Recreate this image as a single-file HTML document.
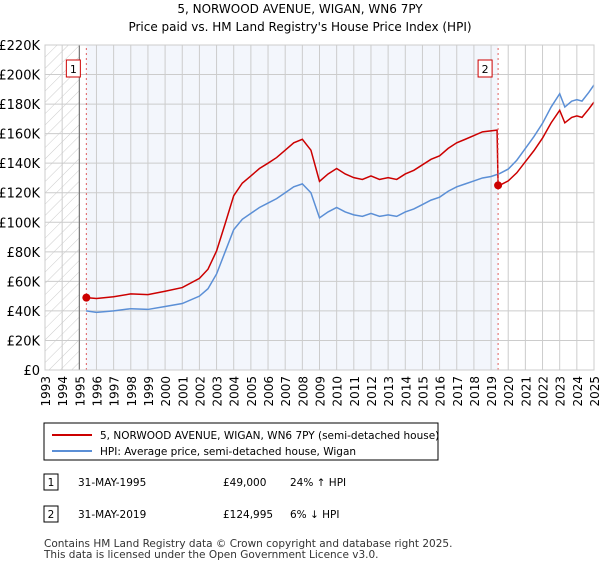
<!DOCTYPE html><html><head><meta charset="utf-8"><style>
body{margin:0;background:#fff;font-family:"DejaVu Sans","Liberation Sans",sans-serif;}
svg text{font-family:"DejaVu Sans","Liberation Sans",sans-serif;}
</style></head><body>
<svg width="600" height="560" viewBox="0 0 600 560">
<defs><pattern id="h" width="8" height="8" patternUnits="userSpaceOnUse" patternTransform="rotate(45)"><line x1="0" y1="0" x2="0" y2="8" stroke="#ccc" stroke-width="1"/></pattern></defs>
<text x="300" y="13" text-anchor="middle" font-size="12">5, NORWOOD AVENUE, WIGAN, WN6 7PY</text>
<text x="300" y="31" text-anchor="middle" font-size="12">Price paid vs. HM Land Registry's House Price Index (HPI)</text>
<g id="plot"></g>
<g>
<rect x="44" y="423" width="394" height="37" fill="#fff" stroke="#000"/>
<line x1="52" y1="435" x2="92" y2="435" stroke="#cc0000" stroke-width="2"/>
<text x="100" y="439" font-size="10.5">5, NORWOOD AVENUE, WIGAN, WN6 7PY (semi-detached house)</text>
<line x1="52" y1="451" x2="92" y2="451" stroke="#5b8fd6" stroke-width="2"/>
<text x="100" y="455" font-size="10.5">HPI: Average price, semi-detached house, Wigan</text>
</g>
<g font-size="10.5">
<rect x="44" y="474" width="14" height="16" fill="#fff" stroke="#000"/><text x="51" y="486" text-anchor="middle">1</text>
<text x="78" y="486">31-MAY-1995</text><text x="223" y="486">£49,000</text><text x="290" y="486">24% ↑ HPI</text>
<rect x="44" y="506" width="14" height="16" fill="#fff" stroke="#000"/><text x="51" y="518" text-anchor="middle">2</text>
<text x="78" y="518">31-MAY-2019</text><text x="223" y="518">£124,995</text><text x="290" y="518">6% ↓ HPI</text>
</g>
<text x="44" y="547" font-size="10.5" fill="#333">Contains HM Land Registry data © Crown copyright and database right 2025.</text>
<text x="44" y="558" font-size="10.5" fill="#333">This data is licensed under the Open Government Licence v3.0.</text>
</svg>
<script>
const yTicks=[0,20,40,60,80,100,120,140,160,180,200,220];
const years=[1993,1994,1995,1996,1997,1998,1999,2000,2001,2002,2003,2004,2005,2006,2007,2008,2009,2010,2011,2012,2013,2014,2015,2016,2017,2018,2019,2020,2021,2022,2023,2024,2025];
const hpiT=[1995.4,1996,1997,1998,1999,2000,2001,2002,2002.5,2003,2003.5,2004,2004.5,2005,2005.5,2006,2006.5,2007,2007.5,2008,2008.5,2009,2009.5,2010,2010.5,2011,2011.5,2012,2012.5,2013,2013.5,2014,2014.5,2015,2015.5,2016,2016.5,2017,2017.5,2018,2018.5,2019,2019.5,2020,2020.5,2021,2021.5,2022,2022.5,2023,2023.3,2023.7,2024,2024.3,2024.7,2025];
const hpiV=[40,39,40,41.5,41,43,45,50,55,65,80,95,102,106,110,113,116,120,124,126,120,103,107,110,107,105,104,106,104,105,104,107,109,112,115,117,121,124,126,128,130,131,133,136,142,150,158,167,178,187,178,182,183,182,188,193];
const redT=[1995.41,1996,1997,1998,1999,2000,2001,2002,2002.5,2003,2003.5,2004,2004.5,2005,2005.5,2006,2006.5,2007,2007.5,2008,2008.5,2009,2009.5,2010,2010.5,2011,2011.5,2012,2012.5,2013,2013.5,2014,2014.5,2015,2015.5,2016,2016.5,2017,2017.5,2018,2018.5,2019.35,2019.41,2019.5,2020,2020.5,2021,2021.5,2022,2022.5,2023,2023.3,2023.7,2024,2024.3,2024.7,2025];
const redV=[49,48.4,49.6,51.5,51,53.3,55.8,62,68.2,80.6,99,118,126.5,131.4,136.4,140,143.8,148.8,153.8,156.2,148.8,127.7,132.7,136.4,132.7,130.2,129,131.4,129,130.2,129,132.7,135.2,138.9,142.6,145,150,153.8,156.2,158.7,161.2,162.4,125,125,128,133.5,141,148.5,157,167.3,175.8,167.3,171,172,171,176.7,181.4];
const salesT=[1995.41,2019.41];const salesV=[49,124.995];const salesL=["1","2"];
const X=t=>45+(t-1993)*(549/32), Y=v=>370-v*(325/220);
const ns="http://www.w3.org/2000/svg", g=document.getElementById('plot');
function mk(tag,a,p){const e=document.createElementNS(ns,tag);for(const k in a)e.setAttribute(k,a[k]);(p||g).appendChild(e);return e;}
let e=mk('rect',{x:X(1995.41),y:Y(220),width:X(2019.41)-X(1995.41),height:Y(0)-Y(220),fill:'#f3f6fc'});

e=mk('rect',{x:45,y:Y(220),width:X(1995)-45,height:Y(0)-Y(220),fill:'url(#h)'});

yTicks.forEach(v=>{e=mk('line',{x1:45,x2:X(2025),y1:Y(v),y2:Y(v),stroke:'#ccc'});

e=mk('text',{x:40,y:Y(v)+5,'text-anchor':'end','font-size':13});e.textContent='£'+(v?v+'K':'0');
});
years.forEach(y=>{e=mk('line',{x1:X(y),x2:X(y),y1:Y(0),y2:Y(220),stroke:'#ccc'});

e=mk('text',{x:0,y:0,'font-size':12,'text-anchor':'end',transform:`translate(${X(y)+5},${Y(0)+6}) rotate(-90)`});e.textContent=y;
});
e=mk('line',{x1:X(1995),x2:X(1995),y1:Y(0),y2:Y(220),stroke:'#666'});

e=mk('polyline',{points:hpiT.map((t,i)=>X(t)+','+Y(hpiV[i])).join(' '),fill:'none',stroke:'#5b8fd6','stroke-width':1.5});

e=mk('polyline',{points:redT.map((t,i)=>X(t)+','+Y(redV[i])).join(' '),fill:'none',stroke:'#cc0000','stroke-width':1.5});

salesT.forEach((t,i)=>{e=mk('line',{x1:X(t),x2:X(t),y1:Y(0),y2:Y(220),stroke:'#e06060','stroke-dasharray':'2,3'});

e=mk('circle',{cx:X(t),cy:Y(salesV[i]),r:4,fill:'#cc0000'});

e=mk('rect',{x:X(t)-20,y:60,width:14,height:17,fill:'#fff',stroke:'#cc0000'});

e=mk('text',{x:X(t)-13,y:73,'text-anchor':'middle','font-size':11});e.textContent=salesL[i];
});
e=mk('rect',{x:45,y:Y(220),width:X(2025)-45,height:Y(0)-Y(220),fill:'none',stroke:'#ccc'});

</script></body></html>
